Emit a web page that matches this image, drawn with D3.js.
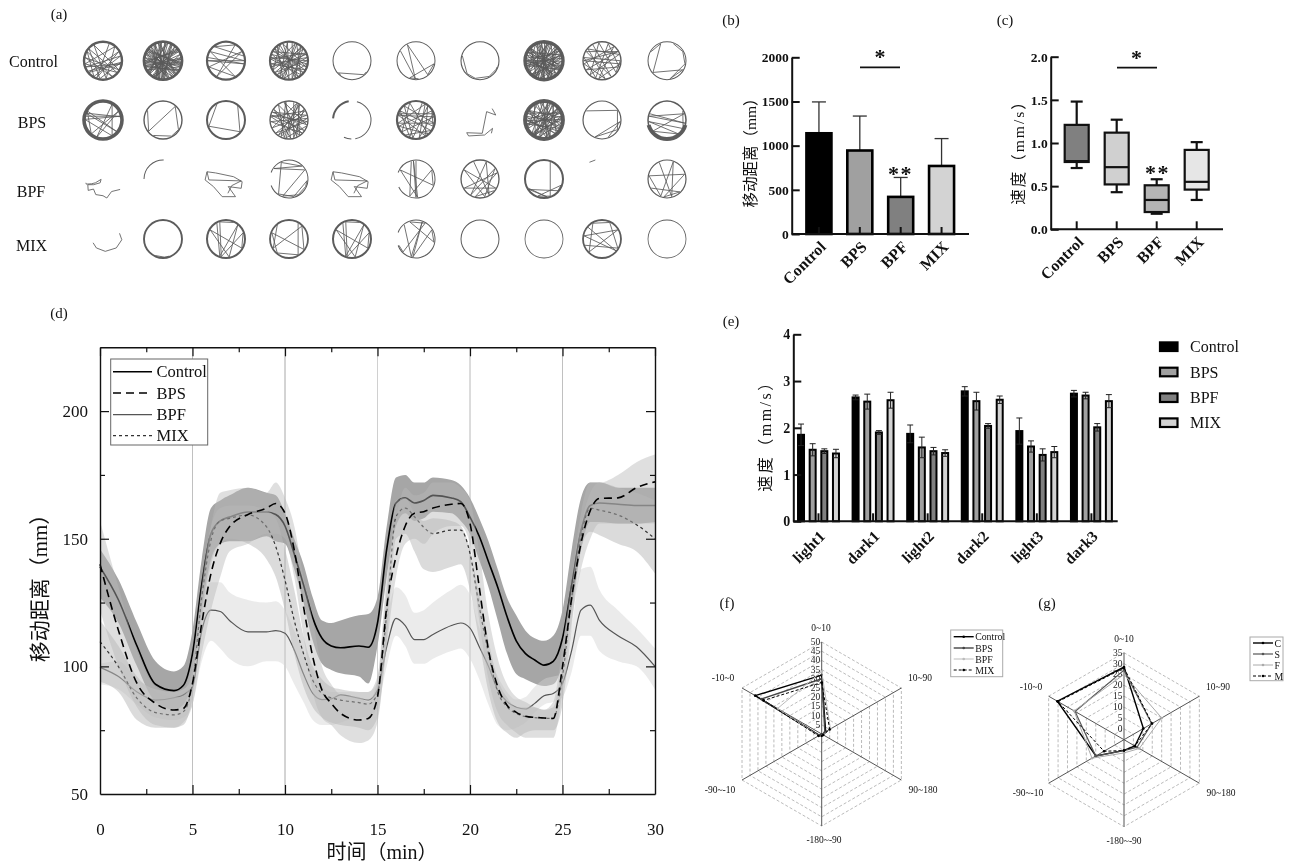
<!DOCTYPE html>
<html><head><meta charset="utf-8">
<script src="https://cdn.jsdelivr.net/npm/d3@7/dist/d3.min.js"></script>
<style>html,body{margin:0;padding:0;background:#fff}svg{display:block;filter:blur(.35px)}</style>
</head><body><svg id="c" width="1292" height="864"></svg>
<script>
// ---------- panel (a): trajectories (angles in degrees clockwise from top; xy normalised to arena radius)
const trajRows = ['Control','BPS','BPF','MIX'];
const rimControl = [[[0,360,2.4]],[[0,360,2.8]],[[0,360,2.2]],[[0,360,2.2]],[[0,360,1]],[[0,360,1]],[[0,360,1.1]],[[0,360,3.4]],[[0,360,1.4]],[[0,360,1]]];
const walkControl = [
 [20,200,60,230,100,250,75,210,300,150,280,120,330,170,40,260,130,310,190,95,235],
 [5,185,40,215,80,250,120,290,160,330,200,10,230,55,265,95,300,135,345,175,25,205,70,240,110,280,150,320,190,355,225,50,260,100,305,140,350,180,30,210,85,255,125,295,165,335,195,15,235,60,270,105,310,145],
 [280,100,270,90,300,150,250,60,210,30,320,75],
 [10,170,50,230,90,280,130,320,200,20,250,70,300,110,340,160,40,220,80,260,120,310,180,355,210,65,275,140,25,195,100,290,150,330,240,45],
 [218,228,140,128],
 [302,182,332,140,100,200,172],
 [285,225,195,150,118,110],
 [8,188,45,222,92,272,135,315,205,18,248,72,298,115,342,158,38,218,82,262,122,308,178,352,212,68,278,142,22,192,102,288,152,332,238,48,168,352,28,208,75,255,118,298,162,338,198,12,232,58,268,108,312,148,182,2],
 [330,150,300,60,240,110,20,200,280,90,130,350,220,70,310,170,260,40,190,100,270,60],
 [300,340,230,120,170,100,60,20]];
const rimBPS = [[[0,360,3.6]],[[0,360,1.4]],[[0,360,2]],[[0,360,1.4]],[[15,170,1],[182,205,1],[275,350,2]],[[0,360,2.2]],[],[[0,360,3.8]],[[0,360,1.2]],[[0,360,1.5],[105,255,4]]];
const walkBPS = [
 [282,78,272,150,30,200,60,220,300,130,292,80],
 [302,232,42,122,152,212],
 [330,250,130,40],
 [15,165,55,225,95,285,125,325,195,25,245,75,295,105,345,155,35,215,85,265,135,305,175,350,205,60,280,145,30,190,110],
 [],
 [20,200,300,110,60,250,140,340,230,80,285,150,40,190,320,100,260,30,170,70,290,125,215],
 [],
 [12,192,48,218,88,268,128,328,208,22,252,68,292,112,348,162,32,212,78,258,118,302,172,358,222,62,272,138,28,198,98,282,158,338,242,52,172,12,212,82,302,142],
 [300,58,122,202,95,160],
 [290,100,282,70,232,140,265,118,60]];
const rimBPF = [[],[[270,362,1]],[],[[0,250,1],[290,360,1]],[],[[345,360,1],[0,245,1],[290,345,1]],[[0,360,1.3]],[[0,360,2]],[],[[0,360,1.2]]];
const walkBPF = [
 [],[],[],
 [335,45,305,60,200,150,115,95,165,215,335],
 [],
 [0,180,352,175,300,110,60,200,345],
 [340,150,20,210,55,165,300,120,240,70,195,130],
 [20,160,200,110,130,235,170,240],
 [],
 [335,165,20,200,280,75,190,135,240]];
const rimMIX = [[],[[0,360,1.9]],[[0,360,2]],[[0,360,1.8]],[[0,360,2]],[[0,250,1],[290,360,1]],[[0,360,1]],[[0,360,.8]],[[0,360,1.8]],[[0,360,.8]]];
const walkMIX = [
 [],
 [205,175,160],
 [330,200,40,170,300,120,70,195,340,25],
 [320,240,45,125,290,220,150,30],
 [330,200,40,170,300,120,70,195,340,25],
 [320,195,20,190,60,100,340,30,225,250],
 [],[],
 [310,130,280,60,225,330,25,120,250],
 []];
const xyShapes = {
 'BPS-6':[[.64,-.6],[.83,-.26],[.35,-.44],[.12,.7],[-.7,.67],[-.6,.84],[.24,.79],[.66,.44],[.6,.7]],
 'BPF-0':[[-.9,.2],[-.88,.27],[-.6,.25],[-.4,.2],[-.1,.02],[-.15,.2],[-.5,.3],[-.8,.3],[-.78,.6],[-.5,.53],[-.38,.82],[0,.88],[.2,1],[.45,.66],[.9,.55]],
 'BPF-2':[[-1,-.38],[-.55,-.32],[.4,-.12],[.85,.14],[.8,.49],[.12,.4],[.5,.93],[-.2,.93],[-.66,.4],[-1.1,.05],[-1,-.38],[-.9,.05],[.8,.1],[.3,.35],[.1,.75]],
 'BPF-4':[[-1,-.38],[-.55,-.32],[.4,-.12],[.85,.14],[.8,.49],[.12,.4],[.5,.93],[-.2,.93],[-.66,.4],[-1.1,.05],[-1,-.38],[-.9,.05],[.8,.1],[.3,.35],[.1,.75]],
 'BPF-8':[[-.66,-.88],[-.35,-1]],
 'MIX-0':[[-.52,.2],[-.35,.47],[.12,.65],[.7,.47],[.99,.04],[.87,-.3]]
};
// ---------- panel (b)
const groups = ['Control','BPS','BPF','MIX'];
const distMean = [1140,945,420,770];
const distTop = [1495,1335,640,1080];
// ---------- panel (c): low whisker, q1, median, q3, high whisker
const speedLow = [.71,.43,.18,.34];
const speedQ1 = [.78,.52,.20,.46];
const speedMed = [.79,.72,.34,.55];
const speedQ3 = [1.21,1.12,.51,.92];
const speedHigh = [1.48,1.27,.58,1.01];
// ---------- panel (d)
const minutes = [0,1,2,3,4,4.5,5,5.5,6,6.5,7,8,9,9.5,10,10.5,11,11.5,12,12.5,13,14,14.5,15,15.5,16,16.5,17,17.5,18,19,19.5,20,20.5,21,21.5,22,22.5,23,23.5,24,24.5,25,25.5,26,26.5,27,28,29,30];
const controlMean = [139,126,108,93,90.5,92.5,105,132,152,157,158.5,160.5,160.5,159.5,155,144,132,119,111,108,107.3,108,107.5,117,146,164,166,164,165,167,166,164.5,158.5,151,141,131,119.5,110,105,102.5,100.5,102,111,132,153,163,164,163.5,163,163];
const controlHi = [146,134,117,102,98,100,114,142,162,165,167,170,168,167,160,150,140,127,118,117,118,120,120.5,127,155,174,175,172,172,174,173,171,166,158,149,138,127,120,114,111,110,112,122,146,166,172,172,170,170,170];
const controlLo = [127,117,100,86,83,85,95,122,142,148,149,149,151,149,148,138,125,110,101,98.6,97.3,96,93.3,108,135,155,160,157,158,160.6,160,157,152,141.6,131,118,105,97,95,93.3,92.3,93,101,123,145.6,156.6,156.6,156,156,156.6];
const bpsMean = [140,114,93.3,85.5,82.9,83.5,93.3,116.8,136.4,148.2,154.7,159.5,162,163.8,160,145.6,123.4,103.8,90.7,85.5,81.6,79,79.6,88,123.4,143,155,160,160.6,162,163.5,163.8,156,131,106.4,92,84.8,82,80.5,80,79.8,79.6,99.9,127,148.2,161,165.8,166,170,172.3];
const bpsHi = [157,131,106,92,89,90,103,130,155,168,169,170,168,172,166,155,135,118,100,93,89,88,86,95,135,158,170,167,168,172,172,170,165,145,120,103,93,88,86,84,83,86,108,135,160,172,172,175,180,183];
const bpsLo = [122,100,84,77,76,78,85,105,122,135,145,148,152,152,150,135,112,90,80,77,73,70,71,78,108,135,148,150,148,152,155,155,148,118,95,82,77,74,72,72,72,72,90,118,138,150,156,156,156,156];
const bpfMean = [99.6,96,90,86.8,87.7,88.8,92,114,122,121.5,118,113.5,113.5,114,113,106.4,97,89.4,87,87.3,88.8,87.5,86.8,90.7,107.7,118.8,116,110.5,110.5,112.5,116,117,115,107.7,100,90.7,86.2,84,83.3,85.5,88.5,89.4,93.3,106.4,122,124,118,112,107.7,100];
const bpfHi = [101,102,95,91,90,91,96,124,133,133,129,126,125,125.5,122,114,106,98,92,90,90,90,90,94,118,131,128,121,122,125,130,132,128,115,105,96,90,87,88,92,95,96,97,115,138,139,130,122,115,107];
const bpfLo = [93,91,85,80,79,80,85,102,110,107,103,100,102,102,100,93,86,79,77,77,78,80,80,84,100,112,108,101,101,103,106,107,103,95,85,77,75,76,78,82,85,86,88,98,112,112,106,102,100,91];
const mixMean = [109.7,99.9,87.5,81.9,81,82.2,93.3,127,149.5,157,158,159.3,154.7,146.9,133.8,118,105,94.6,89.4,87.7,86.8,85.8,85.2,89.4,120.8,158.6,162,158.6,154.5,152,153.4,153.4,144.3,123.4,105,90,84.2,81.5,80.3,79.9,79.7,79.6,96,127,150.8,162,161.2,159.3,155.5,150];
const mixHi = [118,108,96,90,88,88,100,132,155,162,163,163,161,158,146,130,112,100,95,92,91,90,90,96,130,165,166,160,157,158,157,155,146,128,110,95,88,84,84,84,83,84,102,130,155,168,172,170,168,165];
const mixLo = [94,90,79,76,76,77,88,118,140,148,150,148,142,135,122,105,92,84,80,78,77,76,75,80,110,150,152,145,138,137,139,140,130,110,90,78,74,72,74,75,75,75,85,115,146,152.7,151.4,148,145,136.4];
// ---------- panel (e)
const phases = ['light1','dark1','light2','dark2','light3','dark3'];
const speedControl = [1.85,2.65,1.87,2.78,1.93,2.73];
const speedBPS = [1.53,2.56,1.58,2.57,1.60,2.69];
const speedBPF = [1.50,1.90,1.50,2.04,1.42,2.01];
const speedMIX = [1.45,2.59,1.46,2.60,1.48,2.57];
const errControl = [.23,.05,.19,.10,.28,.07];
const errBPS = [.13,.16,.22,.19,.12,.07];
const errBPF = [.05,.04,.08,.05,.13,.08];
const errMIX = [.09,.17,.07,.08,.12,.14];
// ---------- panels (f) and (g)
const bearings = ['0~10','10~90','90~180','-180~-90','-90~-10','-10~0'];
const fControl = [32,2.5,.5,.5,1.5,41.7];
const fBPS = [30,2,.5,.5,1.5,38];
const fBPF = [34,5.5,1,1,2,27.7];
const fMIX = [28,5,1,1,2,36.5];
const gC = [28.4,5.3,.8,-.1,9.9,30.4];
const gS = [27,9.7,1.9,0,10,21];
const gF = [25,15,3.1,1.1,12,21.5];
const gM = [28,9.9,.8,0,5.6,30];

const FONT = '"Liberation Serif","Noto Sans CJK SC",serif';
const svg = d3.select('#c').attr('font-family',FONT);
function txt(x,y,s,size,o={}){
  const t = svg.append('text').attr('x',x).attr('y',y).attr('font-size',size).attr('fill',o.fill||'#111')
    .attr('text-anchor',o.anchor||'middle').attr('dominant-baseline','central').text(s);
  if(o.bold) t.attr('font-weight','bold');
  if(o.ls) t.attr('letter-spacing',o.ls);
  if(o.rot!=null) t.attr('transform',`rotate(${o.rot},${x},${y})`);
  return t;
}
[['(a)',59,14],['(b)',731,20],['(c)',1005,20],['(d)',59,313],['(e)',731,321],['(f)',727,603],['(g)',1047,603]]
  .forEach(d=>txt(d[1],d[2],d[0],15));

// ---------- (a)
const trajX = [103,163,226,289,352,416,480,544,602,667];
const trajY = [60.7,120,179,239];
const rScale = d3.scaleLinear().domain([-1,1]).range([-19,19]);
trajRows.forEach((name,ri)=>{
  const rims = [rimControl,rimBPS,rimBPF,rimMIX][ri], walks=[walkControl,walkBPS,walkBPF,walkMIX][ri];
  trajX.forEach((cx,ci)=>{
    const g = svg.append('g').attr('transform',`translate(${cx},${trajY[ri]})`);
    const arc = d3.arc();
    rims[ci].forEach(([a0,a1,w])=>{
      g.append('path').attr('fill','#5c5c5c').attr('d',arc({
        innerRadius:19-w/2,outerRadius:19+w/2,startAngle:a0*Math.PI/180,endAngle:a1*Math.PI/180}));
    });
    const line = d3.line().x(d=>rScale(d[0])).y(d=>rScale(d[1]));
    if(walks[ci].length){
      const pts = walks[ci].map(a=>[.96*Math.sin(a*Math.PI/180),-.96*Math.cos(a*Math.PI/180)]);
      g.append('path').attr('d',line(pts)).attr('fill','none').attr('stroke','#5a5a5a').attr('stroke-width',.85);
    }
    const shape = xyShapes[name+'-'+ci];
    if(shape) g.append('path').attr('d',line(shape)).attr('fill','none').attr('stroke','#5a5a5a').attr('stroke-width',.85);
  });
});
[['Control',33.5,61.5],['BPS',32,122.5],['BPF',31,191.5],['MIX',31.5,245.5]].forEach(d=>txt(d[1],d[2],d[0],16));

// helpers for the bold prism-style axes
function prismAxes(x0,x1,yTop,yBot,y,band,ticks,labelSize,catOpts){
  const ga = svg.append('g').attr('transform',`translate(${x0},0)`)
    .call(d3.axisLeft(y).tickValues(ticks.v).tickFormat(ticks.f).tickSizeInner(-8).tickSizeOuter(0).tickPadding(3));
  ga.selectAll('path,line').attr('stroke','#111').attr('stroke-width',2);
  ga.selectAll('text').attr('font-family',FONT).attr('font-weight','bold').attr('font-size',labelSize).attr('fill','#111');
  const gb = svg.append('g').attr('transform',`translate(0,${yBot})`)
    .call(d3.axisBottom(band).tickSizeInner(-catOpts.tick).tickSizeOuter(0).tickFormat(''));
  gb.select('path').attr('stroke','#111').attr('stroke-width',2).attr('d',`M${x0},0H${x1}`);
  gb.selectAll('line').attr('stroke','#111').attr('stroke-width',2);
  band.domain().forEach(c=>{
    const px = band(c)+band.bandwidth()/2;
    txt(px+catOpts.dx,yBot+catOpts.dy,c,catOpts.size,{bold:true,anchor:'end',rot:-45});
  });
}

// ---------- (b)
{
  const y = d3.scaleLinear().domain([0,2000]).range([234,57.3]);
  const x = d3.scaleBand().domain(groups).range([798.5,962]).paddingInner(0);
  const fills = ['#000','#a0a0a0','#808080','#d3d3d3'];
  const w = 25;
  const g = svg.append('g');
  groups.forEach((c,i)=>{
    const px = x(c)+x.bandwidth()/2;
    g.append('line').attr('x1',px).attr('x2',px).attr('y1',y(distMean[i])).attr('y2',y(distTop[i])).attr('stroke','#333').attr('stroke-width',1.3);
    g.append('line').attr('x1',px-7).attr('x2',px+7).attr('y1',y(distTop[i])).attr('y2',y(distTop[i])).attr('stroke','#333').attr('stroke-width',1.3);
    g.append('rect').attr('x',px-w/2).attr('width',w).attr('y',y(distMean[i])).attr('height',y(0)-y(distMean[i]))
      .attr('fill',fills[i]).attr('stroke','#000').attr('stroke-width',2.6);
  });
  prismAxes(791.7,969,57,234,y,x,{v:[0,500,1000,1500,2000],f:d3.format('d')},13.5,{tick:7,dx:4,dy:10,size:16});
  svg.append('line').attr('x1',860).attr('x2',900).attr('y1',67.3).attr('y2',67.3).attr('stroke','#111').attr('stroke-width',1.8);
  txt(880,56.5,'*',22,{bold:true});
  txt(900.5,173,'**',22,{bold:true,ls:1.5});
  txt(750,149,'移动距离（mm）',15.5,{rot:-90});
}
// ---------- (c)
{
  const y = d3.scaleLinear().domain([0,2]).range([229.3,56.7]);
  const x = d3.scaleBand().domain(groups).range([1056.7,1216.7]);
  const fills = ['#808080','#d0d0d0','#b5b5b5','#e6e6e6'];
  const w=24;
  groups.forEach((c,i)=>{
    const px = x(c)+x.bandwidth()/2;
    const g = svg.append('g').attr('stroke','#111').attr('stroke-width',2.2);
    g.append('line').attr('x1',px).attr('x2',px).attr('y1',y(speedLow[i])).attr('y2',y(speedHigh[i]));
    [speedLow[i],speedHigh[i]].forEach(v=>g.append('line').attr('x1',px-6).attr('x2',px+6).attr('y1',y(v)).attr('y2',y(v)));
    g.append('rect').attr('x',px-w/2).attr('width',w).attr('y',y(speedQ3[i])).attr('height',y(speedQ1[i])-y(speedQ3[i])).attr('fill',fills[i]);
    g.append('line').attr('x1',px-w/2).attr('x2',px+w/2).attr('y1',y(speedMed[i])).attr('y2',y(speedMed[i]));
  });
  prismAxes(1050.7,1223,56,229.3,y,x,{v:[0,.5,1,1.5,2],f:d3.format('.1f')},13.5,{tick:8,dx:4,dy:10,size:16});
  svg.append('line').attr('x1',1117).attr('x2',1157).attr('y1',67.7).attr('y2',67.7).attr('stroke','#111').attr('stroke-width',1.8);
  txt(1136.5,57,'*',22,{bold:true});
  txt(1157.5,172.5,'**',22,{bold:true,ls:1.5});
  txt(1018,148.5,'速度（mm/s）',15.5,{rot:-90,ls:2});
}
// ---------- (d)
{
  const x = d3.scaleLinear().domain([0,30]).range([100,655]);
  const y = d3.scaleLinear().domain([50,225]).range([794,347.3]);
  [5,10,15,20,25].forEach((t,i)=>svg.append('line').attr('x1',x(t)).attr('x2',x(t)).attr('y1',347).attr('y2',794)
    .attr('stroke',['#c0c0c0','#a8a8a8','#d0d0d0','#b8b8b8','#c0c0c0'][i]).attr('stroke-width',1));
  const area = (hi,lo)=>d3.area().x((d,i)=>x(minutes[i])).y0((d,i)=>y(lo[i])).y1((d,i)=>y(hi[i])).curve(d3.curveMonotoneX)(minutes);
  const line = m=>d3.line().x((d,i)=>x(minutes[i])).y((d,i)=>y(m[i])).curve(d3.curveMonotoneX)(minutes);
  const ser = (hi,lo,m,fill,op,stroke,sw,dash)=>{
    svg.append('path').attr('d',area(hi,lo)).attr('fill',fill).attr('fill-opacity',op);
    const p = svg.append('path').attr('d',line(m)).attr('fill','none').attr('stroke',stroke).attr('stroke-width',sw);
    if(dash) p.attr('stroke-dasharray',dash);
  };
  ser(controlHi,controlLo,controlMean,'#a6a6a6',1,'#000',1.6);
  ser(bpfHi,bpfLo,bpfMean,'#d2d2d2',.45,'#555',1.2);
  ser(mixHi,mixLo,mixMean,'#b8b8b8',.5,'#333',1.2,'3,3');
  ser(bpsHi,bpsLo,bpsMean,'#b8b8b8',.45,'#000',1.6,'8,5');
  const minor = v=>v%50!==0;
  const ax = svg.append('g').attr('transform','translate(100,0)').call(d3.axisLeft(y).tickValues([50,75,100,125,150,175,200]).tickFormat(d=>minor(d)?'':d).tickSizeOuter(0).tickSizeInner(-9).tickPadding(12));
  const ar = svg.append('g').attr('transform','translate(655,0)').call(d3.axisRight(y).tickValues([50,75,100,125,150,175,200]).tickFormat('').tickSizeOuter(0).tickSizeInner(-9));
  const ab = svg.append('g').attr('transform','translate(0,794)').call(d3.axisBottom(x).tickValues(d3.range(0,30.1,2.5)).tickFormat(d=>d%5?'':d).tickSizeOuter(0).tickSizeInner(-9).tickPadding(29));
  const at = svg.append('g').attr('transform','translate(0,347.3)').call(d3.axisTop(x).tickValues(d3.range(0,30.1,2.5)).tickFormat('').tickSizeOuter(0).tickSizeInner(-9));
  [ax,ar,ab,at].forEach(a=>{
    a.selectAll('path').attr('stroke','#111').attr('stroke-width',1.4);
    a.selectAll('line').attr('stroke','#111').attr('stroke-width',1.2);
    a.selectAll('text').attr('font-family',FONT).attr('font-size',17).attr('fill','#111');
  });
  ax.selectAll('.tick').filter(minor).select('line').attr('x2',5);
  ar.selectAll('.tick').filter(minor).select('line').attr('x2',-5);
  ab.selectAll('.tick').filter(d=>d%5!==0).select('line').attr('y2',-5);
  at.selectAll('.tick').filter(d=>d%5!==0).select('line').attr('y2',5);
  ab.selectAll('.tick').filter(d=>d===0||d===30).select('line').attr('opacity',0);
  ax.selectAll('.tick').filter(d=>d===50).select('line').attr('opacity',0);
  ar.selectAll('.tick').filter(d=>d===50).select('line').attr('opacity',0);
  txt(382,852,'时间（min）',20);
  txt(40,583,'移动距离（mm）',21,{rot:-90});
  svg.append('rect').attr('x',110.7).attr('y',359).attr('width',97).attr('height',86).attr('fill','#fff').attr('stroke','#666').attr('stroke-width',1);
  [['Control','#000',1.6,null],['BPS','#000',1.6,'8,5'],['BPF','#555',1.2,null],['MIX','#333',1.2,'3,3']].forEach((d,i)=>{
    const ly = [371.7,393,414.7,435.7][i];
    const l = svg.append('line').attr('x1',113).attr('x2',152).attr('y1',ly).attr('y2',ly).attr('stroke',d[1]).attr('stroke-width',d[2]);
    if(d[3]) l.attr('stroke-dasharray',d[3]);
    txt(156.5,ly,d[0],16.5,{anchor:'start'});
  });
}
// ---------- (e)
{
  const y = d3.scaleLinear().domain([0,4]).range([521.3,334.3]);
  const x = d3.scaleBand().domain(phases).range([791.2,1118.7]);
  const sub = d3.scaleBand().domain([0,1,2,3]).range([-23.3,23.3]);
  const fills = ['#000','#a0a0a0','#808080','#d3d3d3'];
  const vals = [speedControl,speedBPS,speedBPF,speedMIX], errs=[errControl,errBPS,errBPF,errMIX];
  phases.forEach((c,pi)=>{
    const cx = x(c)+x.bandwidth()/2;
    vals.forEach((v,si)=>{
      const px = cx+sub(si)+sub.bandwidth()/2;
      const g = svg.append('g');
      g.append('rect').attr('x',px-3).attr('width',6).attr('y',y(v[pi])).attr('height',y(0)-y(v[pi]))
        .attr('fill',fills[si]).attr('stroke','#000').attr('stroke-width',2);
      const top=v[pi]+errs[si][pi], bot=v[pi]-errs[si][pi];
      g.append('line').attr('x1',px).attr('x2',px).attr('y1',y(top)).attr('y2',y(bot)).attr('stroke','#222').attr('stroke-width',1);
      g.append('line').attr('x1',px-3).attr('x2',px+3).attr('y1',y(top)).attr('y2',y(top)).attr('stroke','#222').attr('stroke-width',1);
      g.append('line').attr('x1',px-3).attr('x2',px+3).attr('y1',y(bot)).attr('y2',y(bot)).attr('stroke','#222').attr('stroke-width',1);
    });
  });
  prismAxes(793.3,1117.7,334,521.3,y,x,{v:[0,1,2,3,4],f:d3.format('d')},14,{tick:8,dx:3.5,dy:12,size:15.5});
  txt(765,432,'速度（mm/s）',16,{rot:-90,ls:2.5});
  groups.forEach((c,i)=>{
    const ly=[346.7,372,397.7,422.7][i];
    svg.append('rect').attr('x',1160).attr('y',ly-4.3).attr('width',17.5).attr('height',8.6).attr('fill',fills[i]).attr('stroke','#000').attr('stroke-width',2.2);
    txt(1190,ly,c,16,{anchor:'start'});
  });
}
// ---------- (f),(g) radar charts
function radar(cx,cy,R,dom,tickVals,series,labels,legend){
  const g = svg.append('g').attr('transform',`translate(${cx},${cy})`);
  const r = d3.scaleLinear().domain(dom).range([0,R]);
  const ang = d3.scalePoint().domain(bearings).range([0,Math.PI*5/3]);
  const ring = d3.lineRadial().angle(d=>ang(d)).curve(d3.curveLinearClosed);
  tickVals.forEach(v=>{
    g.append('path').attr('d',ring.radius(()=>r(v))(bearings)).attr('fill','none').attr('stroke','#aaa').attr('stroke-width',.8).attr('stroke-dasharray','3,2');
  });
  bearings.forEach(b=>{
    const a=ang(b);
    g.append('line').attr('x2',R*Math.sin(a)).attr('y2',-R*Math.cos(a)).attr('stroke','#555').attr('stroke-width',1);
  });
  tickVals.forEach(v=>{
    g.append('text').attr('x',-1.5).attr('y',-r(v)).attr('text-anchor','end').attr('dominant-baseline','central')
      .attr('font-size',9.5).attr('fill','#222').text(v);
  });
  series.forEach(s=>{
    const ln = d3.lineRadial().angle((d,i)=>ang(bearings[i])).radius(d=>r(d)).curve(d3.curveLinearClosed);
    const p=g.append('path').attr('d',ln(s.v)).attr('fill','none').attr('stroke',s.c).attr('stroke-width',s.w);
    if(s.dash) p.attr('stroke-dasharray',s.dash);
    s.v.forEach((d,i)=>{
      const a=ang(bearings[i]);
      g.append('circle').attr('cx',r(d)*Math.sin(a)).attr('cy',-r(d)*Math.cos(a)).attr('r',1.3).attr('fill',s.c);
    });
  });
  bearings.forEach((b,i)=>txt(labels[i][0],labels[i][1],b,9.5));
  svg.append('rect').attr('x',legend.x).attr('y',legend.y).attr('width',legend.w).attr('height',legend.h).attr('fill','#fff').attr('stroke','#aaa').attr('stroke-width',1);
  series.forEach((s,i)=>{
    const ly=legend.rows[i];
    const l=svg.append('line').attr('x1',legend.x+3).attr('x2',legend.x+23).attr('y1',ly).attr('y2',ly).attr('stroke',s.c).attr('stroke-width',s.w);
    if(s.dash) l.attr('stroke-dasharray',s.dash);
    svg.append('circle').attr('cx',legend.x+13).attr('cy',ly).attr('r',1.3).attr('fill',s.c);
    txt(legend.x+24.5,ly,s.n,9.8,{anchor:'start'});
  });
}
radar(821.7,734,92,[0,50],d3.range(5,51,5),[
  {n:'Control',v:fControl,c:'#000',w:1.4},
  {n:'BPS',v:fBPS,c:'#444',w:1.4},
  {n:'BPF',v:fBPF,c:'#bbb',w:1},
  {n:'MIX',v:fMIX,c:'#000',w:1,dash:'3,2'}],
  [[821,628],[920,678],[923,790],[824,840],[720,790],[723,678]],
  {x:950.7,y:630,w:52,h:46.7,rows:[636.7,648,659,670]});
radar(1124,739.7,87,[-5,35],d3.range(0,36,5),[
  {n:'C',v:gC,c:'#000',w:1.4},
  {n:'S',v:gS,c:'#555',w:1.2},
  {n:'F',v:gF,c:'#aaa',w:1},
  {n:'M',v:gM,c:'#000',w:1,dash:'3,2'}],
  [[1124,639],[1218,687],[1221,793],[1124,841],[1028,793],[1031,687]],
  {x:1250,y:637,w:33,h:43.7,rows:[643,654,665,676]});
</script></body></html>
